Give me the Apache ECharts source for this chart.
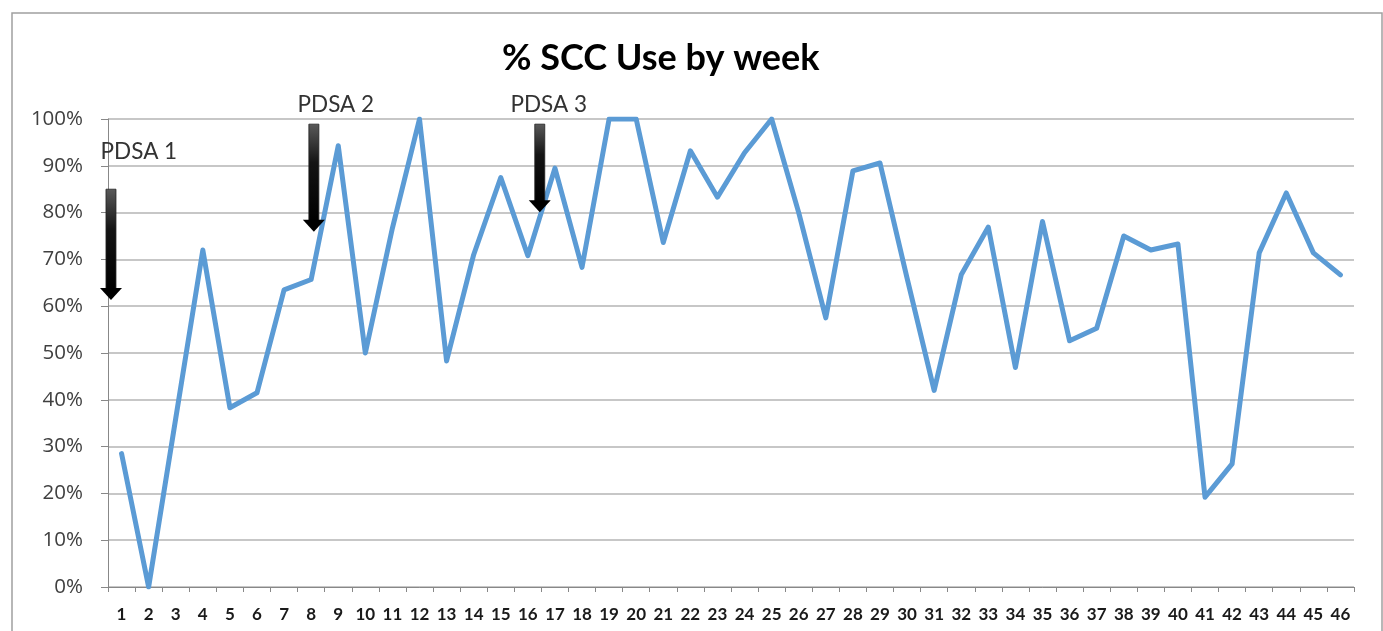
<!DOCTYPE html>
<html>
<head>
<meta charset="utf-8">
<script src="https://cdn.jsdelivr.net/npm/echarts@6/dist/echarts.min.js"></script>
<style>
  html, body { margin: 0; padding: 0; background: #fff; }
  #main { width: 1383px; height: 631px; }
</style>
</head>
<body>
<div id="main"></div>
<script>
// weeks 1..46
const weeks = [];
for (let i = 1; i <= 46; i++) weeks.push(String(i));

// % SCC use
const sccUse = [
  28.5, 0, 36, 72, 38.3, 41.5, 63.5, 65.7, 94.3, 50,
  76.7, 100, 48.3, 71, 87.5, 70.8, 89.5, 68.3, 100, 100,
  73.6, 93.2, 83.3, 92.8, 100, 80, 57.5, 88.9, 90.6, 66,
  42, 66.7, 76.9, 46.9, 78.1, 52.6, 55.3, 75, 72, 73.3,
  19.2, 26.3, 71.4, 84.2, 71.4, 66.7
];

// PDSA arrows: x in week units (0 = left edge of axis), top and tip in %
const pdsaNames = ['PDSA 1', 'PDSA 2', 'PDSA 3'];
const pdsaX = [0.11, 7.6, 15.94];
const pdsaTop = [85, 98.9, 98.9];
const pdsaTip = [61.3, 75.9, 80.1];
// where the PDSA text sits (same units)
const pdsaLabelX = [1.14, 8.41, 16.27];
const pdsaLabelY = [93, 103, 103];

const chart = echarts.init(document.getElementById('main'));

const arrowData = pdsaNames.map((n, i) => [pdsaX[i], pdsaTop[i], pdsaTip[i], pdsaLabelX[i], pdsaLabelY[i], n]);

function renderArrow(params, api) {
  const top = api.coord([api.value(0), api.value(1)]);
  const tip = api.coord([api.value(0), api.value(2)]);
  const lbl = api.coord([api.value(3), api.value(4)]);
  const shaftW = 10, headW = 22, headH = 12;
  const cx = top[0];
  return {
    type: 'group',
    children: [
      {
        type: 'rect',
        shape: { x: cx - shaftW / 2, y: top[1], width: shaftW, height: tip[1] - headH - top[1] + 1 },
        style: {
          fill: new echarts.graphic.LinearGradient(0, 0, 0, 1, [
            { offset: 0, color: '#5a5a5a' },
            { offset: 0.4, color: '#141414' },
            { offset: 1, color: '#000' }
          ]),
          stroke: '#222',
          lineWidth: 0.8
        }
      },
      {
        type: 'polygon',
        shape: { points: [[cx - headW / 2, tip[1] - headH], [cx + headW / 2, tip[1] - headH], [cx, tip[1]]] },
        style: { fill: '#000' }
      },
      {
        type: 'text',
        x: lbl[0],
        y: lbl[1],
        style: {
          text: api.value(5),
          fill: '#333',
          font: '22.5px Lato, "Open Sans", sans-serif',
          align: 'center',
          verticalAlign: 'middle'
        }
      }
    ]
  };
}

chart.setOption({
  animation: false,
  backgroundColor: '#fff',
  title: {
    text: '% SCC Use by week',
    left: 497,
    top: 35,
    textStyle: {
      fontFamily: 'Lato, "Open Sans", sans-serif',
      fontWeight: 'bold',
      fontSize: 36,
      color: '#000'
    }
  },
  graphic: [{
    type: 'rect',
    shape: { x: 12, y: 13, width: 1370, height: 640 },
    style: { fill: 'none', stroke: '#a0a0a0', lineWidth: 1.5 },
    silent: true
  }],
  grid: { left: 108, right: 29, top: 119, bottom: 44 },
  xAxis: [{
    type: 'category',
    data: weeks,
    boundaryGap: true,
    axisLine: { lineStyle: { color: '#888', width: 1 } },
    axisTick: { show: true, length: 5, lineStyle: { color: '#888' } },
    axisLabel: {
      interval: 0,
      color: '#1a1a1a',
      fontFamily: 'Lato, "Open Sans", sans-serif',
      fontWeight: 'bold',
      fontSize: 17,
      margin: 19
    },
    splitLine: { show: false }
  }, {
    type: 'value',
    min: 0,
    max: 46,
    show: false
  }],
  yAxis: {
    type: 'value',
    min: 0,
    max: 100,
    interval: 10,
    axisLine: { show: true, lineStyle: { color: '#888' } },
    axisTick: { show: true, length: 7, lineStyle: { color: '#888' } },
    axisLabel: {
      formatter: '{value}%',
      color: '#404040',
      fontFamily: '"Open Sans", Lato, sans-serif',
      fontSize: 20.5,
      margin: 25
    },
    splitLine: { lineStyle: { color: '#b4b4b4', width: 1.5 } }
  },
  series: [{
    type: 'line',
    data: sccUse,
    symbol: 'none',
    lineStyle: { color: '#5b9bd5', width: 5, join: 'round', cap: 'round' },
    z: 3
  }, {
    type: 'custom',
    xAxisIndex: 1,
    data: arrowData,
    renderItem: renderArrow,
    clip: false,
    z: 5
  }]
});
</script>
</body>
</html>
